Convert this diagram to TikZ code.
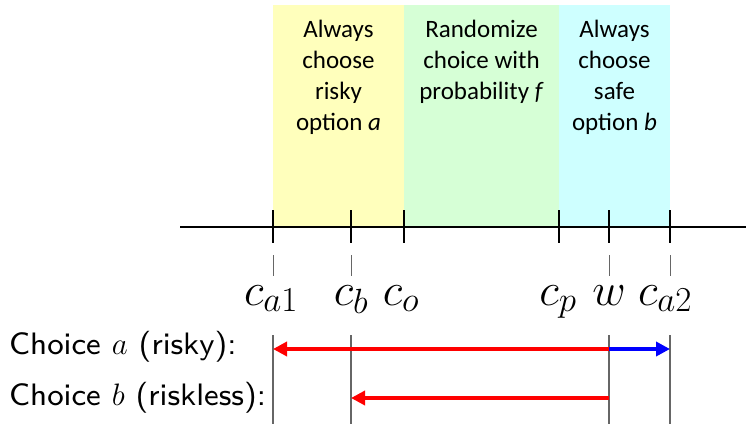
\RequirePackage{fix-cm}
\documentclass[tikz,border=0pt]{standalone}
\usepackage{fontspec}
\newfontfamily\calib{Carlito}
\newfontfamily\lmsseight{lmsans8-regular.otf}
\usetikzlibrary{arrows.meta}
\definecolor{ybg}{RGB}{255,255,188}
\definecolor{gbg}{RGB}{214,255,214}
\definecolor{cbg}{RGB}{206,255,255}
\definecolor{ared}{RGB}{255,0,0}
\definecolor{ablue}{RGB}{0,0,255}
\newcommand\subbig[1]{\mbox{\fontsize{35}{35}\selectfont$#1$}}
\begin{document}
\begin{tikzpicture}[x=1pt,y=-1pt,
  regiontext/.style={font=\calib\fontsize{25}{31}\selectfont, align=center, anchor=north, inner sep=0pt},
  axisline/.style={line width=1.8pt, black},
  tickmark/.style={line width=1.8pt, black},
  dashmark/.style={line width=0.8pt, black!60},
  guide/.style={line width=1.1pt, black!60},
  pointlabel/.style={font=\fontsize{46}{50}\selectfont, anchor=base, inner sep=0pt},
  choicelabel/.style={font=\lmsseight\fontsize{31}{34}\selectfont, anchor=base west, inner sep=0pt},
  redarrow/.style={line width=4.5pt, ared, -{Triangle[length=14pt,width=14pt]}},
  bluearrow/.style={line width=4.5pt, ablue, -{Triangle[length=14pt,width=14pt]}}
]
\useasboundingbox (0,0) rectangle (746,424);
% regions
\fill[ybg] (273,5) rectangle (404,227);
\fill[gbg] (404,5) rectangle (559,227);
\fill[cbg] (559,5) rectangle (670,227);
\node[regiontext] (t1) at (338.5,20) {Always\\choose\\risky\\option \textit{a}};
\node[regiontext] (t2) at (481.5,20) {Randomize\\choice with\\probability \textit{f}};
\node[regiontext] (t3) at (614.5,20) {Always\\choose\\safe\\option \textit{b}};
% axis
\coordinate (axL) at (180,227);
\coordinate (axR) at (746,227);
\draw[axisline] (axL) -- (axR);
\foreach \n/\x in {a1/273, b/351, o/404, p/559, w/609, a2/670}{
  \coordinate (top\n) at (\x,210);
  \coordinate (bot\n) at (\x,243);
  \draw[tickmark] (top\n) -- (bot\n);
}
\foreach \n/\x in {a1/273, b/351, w/609, a2/670}{
  \coordinate (ds\n) at (\x,255);
  \coordinate (de\n) at (\x,276);
  \draw[dashmark] (ds\n) -- (de\n);
  \coordinate (gs\n) at (\x,335);
  \coordinate (ge\n) at (\x,424);
  \draw[guide] (gs\n) -- (ge\n);
}
% point labels
\node[pointlabel] (la1) at (271,305) {$c_{\subbig{a1}}$};
\node[pointlabel] (lb) at (351,305) {$c_{\subbig{b}}$};
\node[pointlabel] (lo) at (401,305) {$c_{\subbig{o}}$};
\node[pointlabel] (lp) at (558,305) {$c_{\subbig{p}}$};
\node[pointlabel] (lw) at (609,305) {$w$};
\node[pointlabel] (la2) at (665,305) {$c_{\subbig{a2}}$};
% choice labels
\node[choicelabel] (ca) at (9,354) {Choice $a$ (risky):};
\node[choicelabel] (cb) at (9,405) {Choice $b$ (riskless):};
% arrows
\coordinate (aw) at (609,349);
\coordinate (aa1) at (273,349);
\coordinate (aa2) at (670,349);
\coordinate (bw) at (609,398);
\coordinate (bb) at (351,398);
\draw[redarrow] (aw) -- (aa1);
\draw[bluearrow] (aw) -- (aa2);
\draw[redarrow] (bw) -- (bb);
\end{tikzpicture}
\end{document}
